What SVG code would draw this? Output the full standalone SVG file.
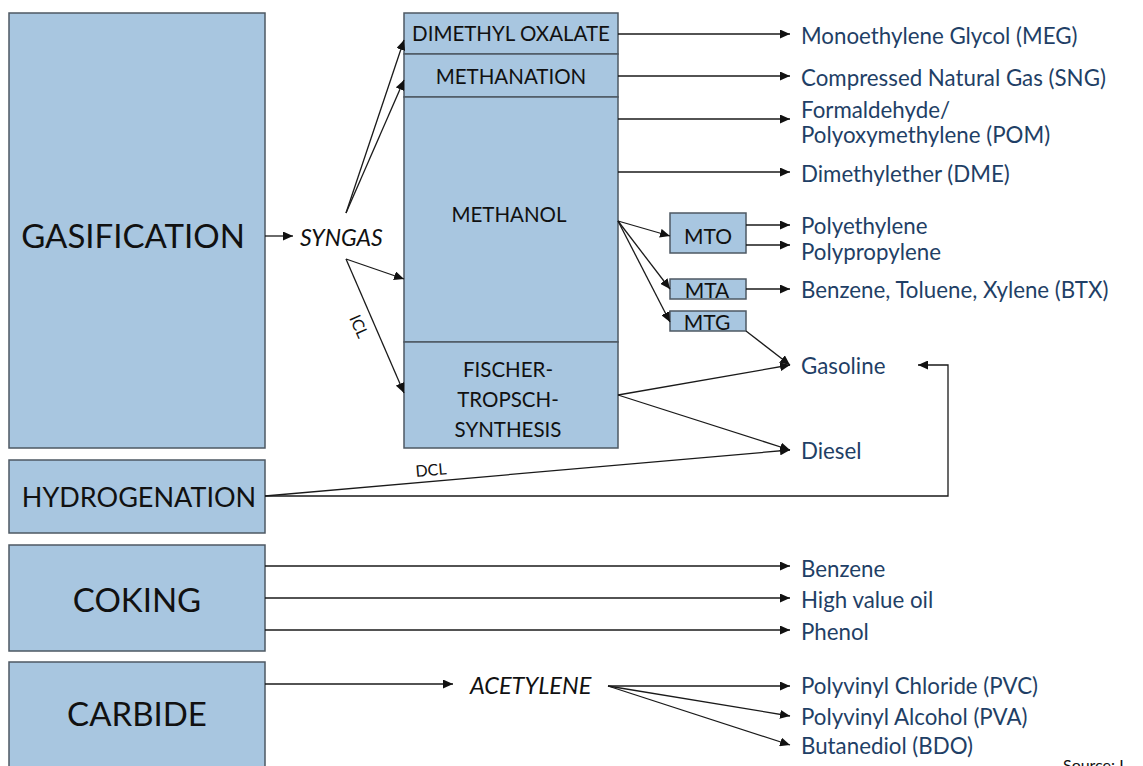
<svg xmlns="http://www.w3.org/2000/svg" width="1143" height="766" viewBox="0 0 1143 766">
<defs>
<marker id="ah" markerWidth="11" markerHeight="9" refX="10" refY="4.5" orient="auto" markerUnits="userSpaceOnUse">
<path d="M0,0 L10,4.5 L0,9 z" fill="#111"/>
</marker>
<style>
.box{fill:#a8c6e0;stroke:#4d5863;stroke-width:1.5}
.bt{font-family:Lato,"Open Sans","Liberation Sans",sans-serif;fill:#111;text-anchor:middle;dominant-baseline:central}
.out{font-family:Lato,"Open Sans","Liberation Sans",sans-serif;font-size:22.3px;fill:#1f3f66;dominant-baseline:central}
.c{fill:none;stroke:#1a1a1a;stroke-width:1.3}
.a{marker-end:url(#ah)}
.it{font-family:Lato,"Open Sans","Liberation Sans",sans-serif;font-style:italic;fill:#111;dominant-baseline:central}
.sm{font-family:Lato,"Open Sans","Liberation Sans",sans-serif;font-size:16px;fill:#111}
</style>
</defs>
<rect width="1143" height="766" fill="#fff"/>

<g id="gasification"><rect class="box" x="9" y="13" width="256" height="435"/><text class="bt" x="133" y="235" font-size="33">GASIFICATION</text></g>
<g id="hydrogenation"><rect class="box" x="9" y="460" width="256" height="73"/><text class="bt" x="139" y="496" font-size="27">HYDROGENATION</text></g>
<g id="coking"><rect class="box" x="9" y="545" width="256" height="106"/><text class="bt" x="137" y="599" font-size="33">COKING</text></g>
<g id="carbide"><rect class="box" x="9" y="662" width="256" height="110"/><text class="bt" x="137" y="713" font-size="33">CARBIDE</text></g>

<g id="dimethyl-oxalate"><rect class="box" x="404" y="13" width="214" height="41"/><text class="bt" x="511" y="33" font-size="20.5">DIMETHYL OXALATE</text></g>
<g id="methanation"><rect class="box" x="404" y="54" width="214" height="43"/><text class="bt" x="511" y="76" font-size="20.5">METHANATION</text></g>
<g id="methanol"><rect class="box" x="404" y="97" width="214" height="245"/><text class="bt" x="509" y="214" font-size="20.5">METHANOL</text></g>
<g id="fischer-tropsch"><rect class="box" x="404" y="342" width="214" height="106"/><text class="bt" x="508" y="369" font-size="20.5">FISCHER-</text><text class="bt" x="508" y="399" font-size="20.5">TROPSCH-</text><text class="bt" x="508" y="429" font-size="20.5">SYNTHESIS</text></g>

<g id="mto"><rect class="box" x="670" y="213" width="76" height="40"/><text class="bt" x="708" y="235" font-size="21">MTO</text></g>
<g id="mta"><rect class="box" x="670" y="279" width="76" height="20"/><text class="bt" x="707" y="289" font-size="21">MTA</text></g>
<g id="mtg"><rect class="box" x="670" y="311" width="76" height="20"/><text class="bt" x="707" y="321" font-size="21">MTG</text></g>

<g id="syngas"><text class="it" x="300" y="237" font-size="23">SYNGAS</text></g>
<g id="acetylene"><text class="it" x="470" y="685" font-size="23.5">ACETYLENE</text></g>

<g id="outputs">
<text class="out" x="801" y="35">Monoethylene Glycol (MEG)</text>
<text class="out" x="801" y="77">Compressed Natural Gas (SNG)</text>
<text class="out" x="801" y="109">Formaldehyde/</text>
<text class="out" x="801" y="134">Polyoxymethylene (POM)</text>
<text class="out" x="801" y="173">Dimethylether (DME)</text>
<text class="out" x="801" y="225">Polyethylene</text>
<text class="out" x="801" y="251">Polypropylene</text>
<text class="out" x="801" y="289">Benzene, Toluene, Xylene (BTX)</text>
<text class="out" x="801" y="365">Gasoline</text>
<text class="out" x="801" y="450">Diesel</text>
<text class="out" x="801" y="568">Benzene</text>
<text class="out" x="801" y="599">High value oil</text>
<text class="out" x="801" y="631">Phenol</text>
<text class="out" x="801" y="685">Polyvinyl Chloride (PVC)</text>
<text class="out" x="801" y="716">Polyvinyl Alcohol (PVA)</text>
<text class="out" x="801" y="745">Butanediol (BDO)</text>
</g>

<g id="connectors">
<line class="c a" x1="265" y1="236" x2="293" y2="236"/>
<line class="c a" x1="346" y1="213" x2="404" y2="40"/>
<line class="c a" x1="346" y1="213" x2="404" y2="80"/>
<line class="c a" x1="346" y1="259" x2="404" y2="279"/>
<line class="c a" x1="346" y1="259" x2="404" y2="393"/>
<text class="sm" x="0" y="0" transform="translate(349,318) rotate(66)">ICL</text>

<line class="c a" x1="618" y1="34" x2="790" y2="34"/>
<line class="c a" x1="618" y1="76" x2="790" y2="76"/>
<line class="c a" x1="618" y1="119" x2="790" y2="119"/>
<line class="c a" x1="618" y1="172" x2="790" y2="172"/>

<line class="c a" x1="618" y1="221" x2="670" y2="236"/>
<line class="c a" x1="618" y1="221" x2="670" y2="289"/>
<line class="c a" x1="618" y1="221" x2="670" y2="322"/>

<line class="c a" x1="746" y1="225" x2="790" y2="225"/>
<line class="c a" x1="746" y1="245" x2="790" y2="245"/>
<line class="c a" x1="746" y1="289" x2="790" y2="289"/>
<line class="c a" x1="746" y1="331" x2="790" y2="365"/>

<line class="c a" x1="618" y1="395" x2="790" y2="365"/>
<line class="c a" x1="618" y1="395" x2="790" y2="450"/>

<line class="c a" x1="265" y1="496" x2="790" y2="450"/>
<text class="sm" x="0" y="0" transform="translate(416,477) rotate(-5)">DCL</text>
<polyline class="c a" points="265,496 948,496 948,365 918,365"/>

<line class="c a" x1="265" y1="566" x2="790" y2="566"/>
<line class="c a" x1="265" y1="598" x2="790" y2="598"/>
<line class="c a" x1="265" y1="630" x2="790" y2="630"/>

<line class="c a" x1="265" y1="684" x2="453" y2="684"/>
<line class="c a" x1="608" y1="686" x2="790" y2="686"/>
<line class="c a" x1="608" y1="686" x2="790" y2="716"/>
<line class="c a" x1="608" y1="686" x2="790" y2="745"/>
</g>

<text x="1063" y="771" font-family="Lato,'Open Sans','Liberation Sans',sans-serif" font-size="16" fill="#111">Source: I</text>
</svg>
